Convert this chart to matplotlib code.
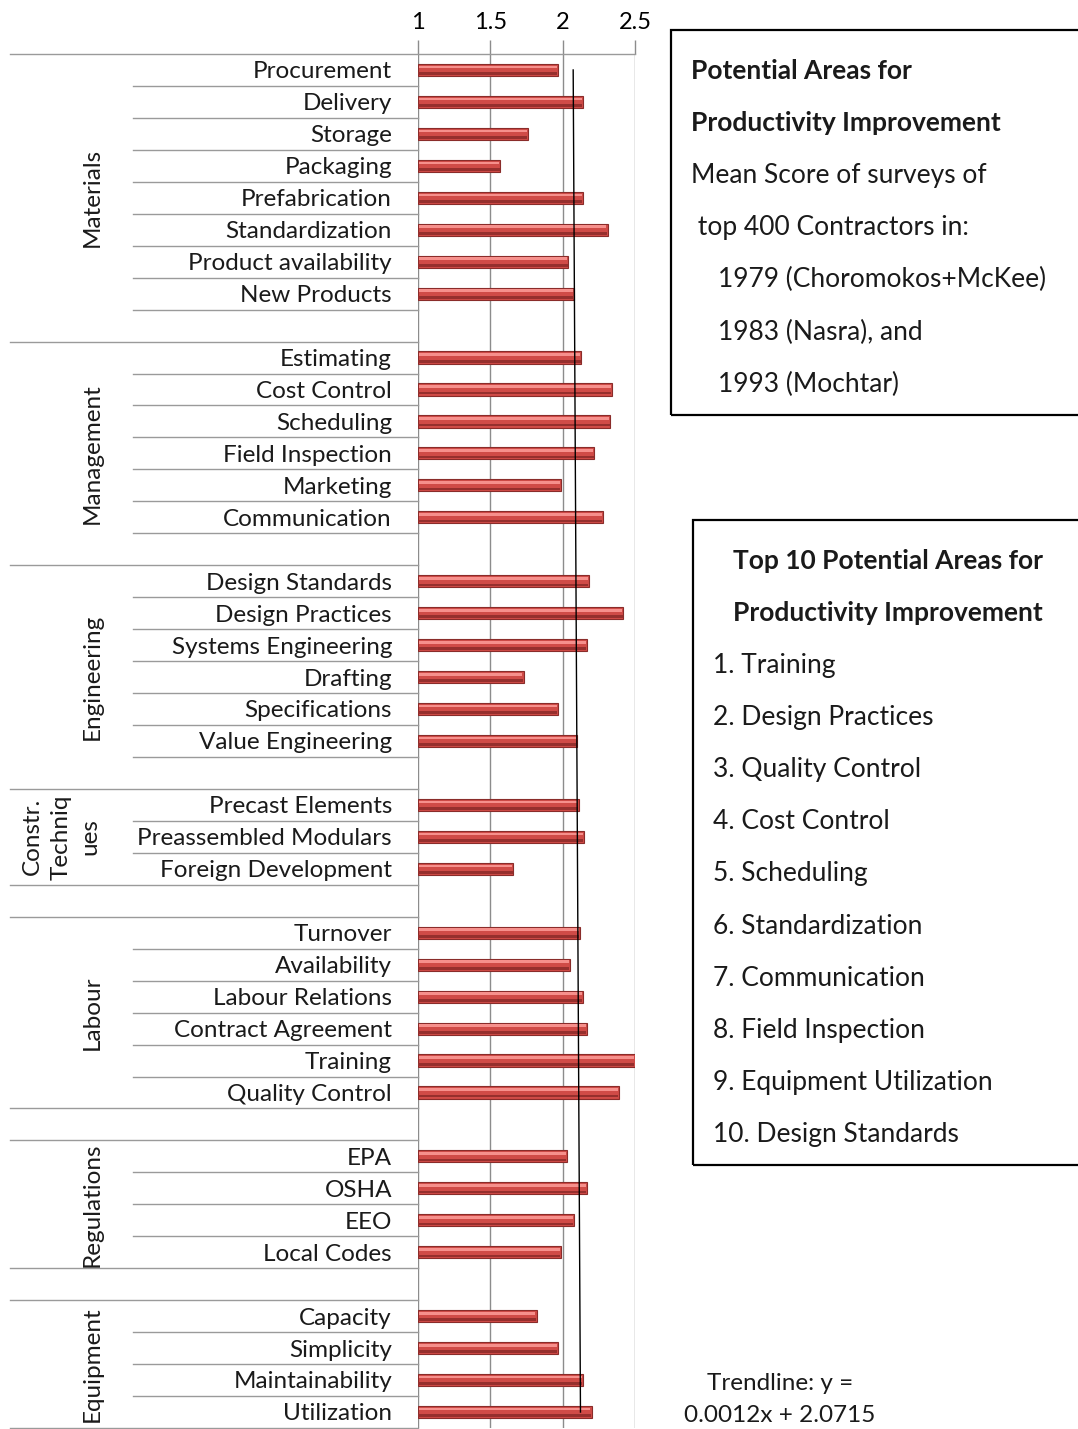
import numpy as np
import matplotlib
matplotlib.use("Agg")
import matplotlib.pyplot as plt
from matplotlib.transforms import blended_transform_factory
from matplotlib.patches import Rectangle
from matplotlib.lines import Line2D

plt.rcParams['font.family'] = ['Lato', 'DejaVu Sans']

# ---------------- data ----------------
group_names = ["Materials", "Management", "Engineering", "Constr.\nTechniq\nues", "",
               "Labour", "", "Regulations", "", "Equipment"]
group_items = [
    ["Procurement", "Delivery", "Storage", "Packaging", "Prefabrication",
     "Standardization", "Product availability", "New Products", ""],
    ["Estimating", "Cost Control", "Scheduling", "Field Inspection", "Marketing",
     "Communication", ""],
    ["Design Standards", "Design Practices", "Systems Engineering", "Drafting",
     "Specifications", "Value Engineering", ""],
    ["Precast Elements", "Preassembled Modulars", "Foreign Development"],
    [""],
    ["Turnover", "Availability", "Labour Relations", "Contract Agreement",
     "Training", "Quality Control"],
    [""],
    ["EPA", "OSHA", "EEO", "Local Codes"],
    [""],
    ["Capacity", "Simplicity", "Maintainability", "Utilization"],
]
group_values = [
    [1.97, 2.14, 1.76, 1.57, 2.14, 2.31, 2.04, 2.08, np.nan],
    [2.13, 2.34, 2.33, 2.22, 1.99, 2.28, np.nan],
    [2.18, 2.42, 2.17, 1.73, 1.97, 2.10, np.nan],
    [2.11, 2.15, 1.66],
    [np.nan],
    [2.12, 2.05, 2.14, 2.17, 2.50, 2.39],
    [np.nan],
    [2.03, 2.17, 2.08, 1.99],
    [np.nan],
    [1.82, 1.97, 2.14, 2.20],
]
x_ticks = [1, 1.5, 2, 2.5]
x_tick_labels = ["1", "1.5", "2", "2.5"]
trend_slope = 0.0012
trend_intercept = 2.0715

box1_lines = ["Potential Areas for", "Productivity Improvement", "Mean Score of surveys of",
              " top 400 Contractors in:", "    1979 (Choromokos+McKee)", "    1983 (Nasra), and",
              "    1993 (Mochtar)"]
top10_title = ["Top 10 Potential Areas for", "Productivity Improvement"]
top10_items = ["1. Training", "2. Design Practices", "3. Quality Control", "4. Cost Control",
               "5. Scheduling", "6. Standardization", "7. Communication", "8. Field Inspection",
               "9. Equipment Utilization", "10. Design Standards"]
trend_text = ["Trendline: y =", "0.0012x + 2.0715"]

# ---------------- figure ----------------
W, H = 1078, 1429
fig = plt.figure(figsize=(W / 100, H / 100), dpi=100)

def fx(px):
    return px / W

def fy(py):
    return 1 - py / H

ax_l, ax_r, ax_t, ax_b = 418, 635, 54, 1428
ax = fig.add_axes([fx(ax_l), fy(ax_b), fx(ax_r) - fx(ax_l), fy(ax_t) - fy(ax_b)])

labels = [c for g in group_items for c in g]
values = np.array([v for g in group_values for v in g], dtype=float)
n = len(labels)
ypos = np.arange(n)

ax.set_xlim(1, 2.5)
ax.set_ylim(n - 0.5, -0.5)

# bars with simple 3D look
bar_h = 0.38
mask = ~np.isnan(values)
ax.barh(ypos[mask], values[mask] - 1, left=1, height=bar_h, color="#D04B47",
        edgecolor="#8A2C2A", linewidth=0.8, zorder=3)
ax.barh(ypos[mask] - bar_h * 0.24, values[mask] - 1 - 0.012, left=1.004, height=bar_h * 0.22,
        color="#F6908C", linewidth=0, zorder=4)
ax.barh(ypos[mask] + bar_h * 0.30, values[mask] - 1 - 0.008, left=1.002, height=bar_h * 0.22,
        color="#962F2D", linewidth=0, zorder=4)

# trendline
xi = np.arange(1, n + 1)
ax.plot(trend_slope * xi + trend_intercept, ypos, color="black", lw=1.0, zorder=5)

# axes styling
for s in ax.spines.values():
    s.set_visible(False)
ax.xaxis.tick_top()
ax.set_xticks(x_ticks)
ax.set_xticklabels(x_tick_labels, fontsize=17)
ax.tick_params(axis="x", direction="out", length=10, width=1, color="#8C8C8C", pad=5)
ax.set_yticks([])
ax.grid(axis="x", color="#8C8C8C", lw=1, zorder=0)
for lab in ax.get_xticklabels():
    lab.set_clip_on(False)

# left category labels and separator lines
tr = blended_transform_factory(fig.transFigure, ax.transData)
line_col = "#9A9A9A"
for i, lab in enumerate(labels):
    if lab:
        ax.text(fx(392), i + 0.06, lab, transform=tr, ha="right", va="center", fontsize=17.5,
                color="#1a1a1a")

start = 0
starts = []
for gi, items in enumerate(group_items):
    starts.append(start)
    start += len(items)
group_bounds = set(starts) | {n}
for b in range(n + 1):
    y = b - 0.5
    if b == 0:
        x0, x1 = fx(10), fx(ax_r)
    elif b in group_bounds:
        x0, x1 = fx(10), fx(ax_l)
    else:
        x0, x1 = fx(133), fx(ax_l)
    fig.add_artist(Line2D([x0, x1], [y, y], transform=tr, color=line_col, lw=1, clip_on=False))

# group labels
for gi, name in enumerate(group_names):
    if not name:
        continue
    s = starts[gi]
    e = s + len(group_items[gi]) - 1
    yc = (s + e) / 2
    xc = fx(92) if "\n" not in name else fx(61)
    ax.text(xc, yc, name, transform=tr, rotation=90, ha="center", va="center",
            fontsize=17.5, color="#1a1a1a", linespacing=1.45, multialignment="center")

# right text box 1
fig.add_artist(Rectangle((fx(671), fy(415)), fx(1100) - fx(671), fy(30) - fy(415),
                         transform=fig.transFigure, fill=False, edgecolor="black", lw=1.6))
y0 = 71
for k, t in enumerate(box1_lines):
    fig.text(fx(691), fy(y0 + 52.2 * k), t, ha="left", va="center", fontsize=19,
             fontweight="bold" if k < 2 else "normal", color="#1a1a1a")

# right text box 2
fig.add_artist(Rectangle((fx(693), fy(1165)), fx(1100) - fx(693), fy(520) - fy(1165),
                         transform=fig.transFigure, fill=False, edgecolor="black", lw=1.6))
for k, t in enumerate(top10_title):
    fig.text(fx(888), fy(561 + 52.2 * k), t, ha="center", va="center", fontsize=19,
             fontweight="bold", color="#1a1a1a")
for k, t in enumerate(top10_items):
    fig.text(fx(713), fy(665 + 52.2 * k), t, ha="left", va="center", fontsize=19, color="#1a1a1a")

# trendline text
fig.text(fx(780), fy(1384), trend_text[0], ha="center", va="center", fontsize=17.5, color="#1a1a1a")
fig.text(fx(780), fy(1416), trend_text[1], ha="center", va="center", fontsize=17.5, color="#1a1a1a")

fig.savefig("out.png", dpi=100, facecolor="white")
